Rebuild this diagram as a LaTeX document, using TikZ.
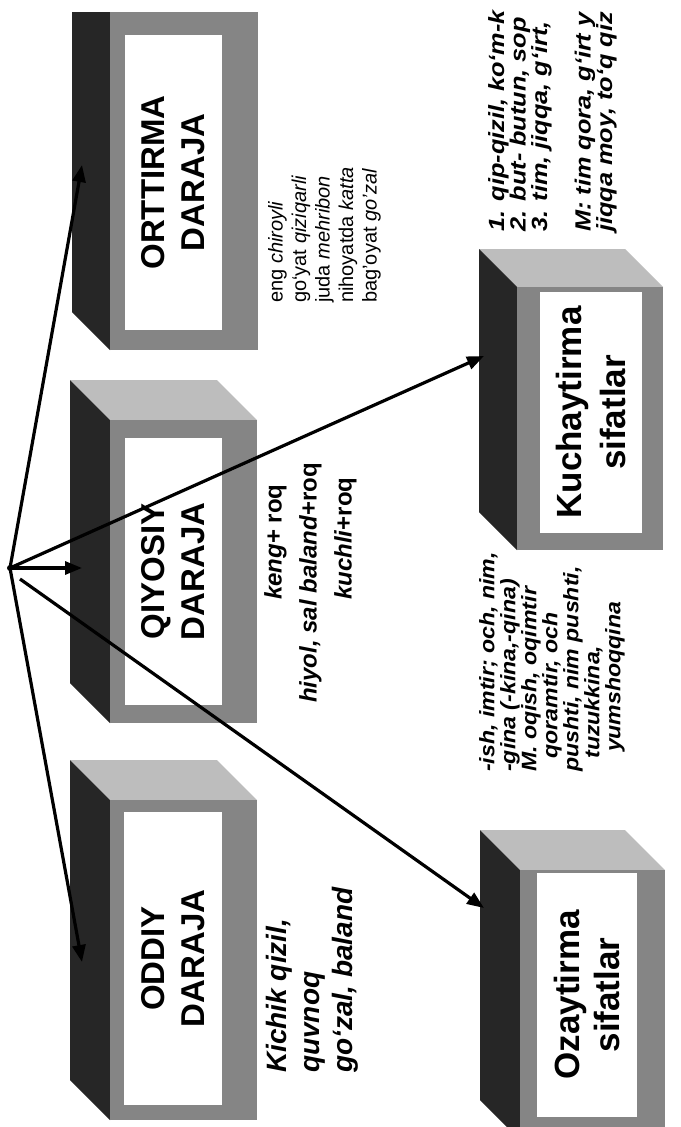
\documentclass[tikz,border=0pt]{standalone}
\usepackage{fontspec}
\setmainfont{Liberation Sans}
\usetikzlibrary{arrows.meta}
\definecolor{sidedark}{gray}{0.15}
\definecolor{topgrey}{gray}{0.74}
\definecolor{framegrey}{gray}{0.52}
\newcommand\drawcube[5]{%
  \fill[topgrey] (#1,#2) -- (#1-#5,#2-#5) -- (#3-#5,#2-#5) -- (#3,#2) -- cycle;
  \fill[sidedark] (#1,#2) -- (#1-#5,#2-#5) -- (#1-#5,#4-#5) -- (#1,#4) -- cycle;
  \fill[framegrey] (#1,#2) rectangle (#3,#4);
}
\begin{document}
\begin{tikzpicture}[x=1pt,y=-1pt,
  face/.style={rotate=90, fill=white, inner sep=0pt, align=center, font=\bfseries\fontsize{33}{40}\selectfont},
  note/.style={rotate=90, inner sep=0pt, anchor=north west, align=left},
  conn/.style={line width=3.2pt, -{Triangle[length=17pt,width=13pt]}},
]
\useasboundingbox (0,0) rectangle (680,1127);
\fill[white] (0,0) rectangle (680,1127);

\begin{scope}
\clip (0,12) rectangle (680,1127);
\drawcube{110}{12}{258}{350}{38}
\end{scope}
\drawcube{110}{420}{257}{723}{40}
\drawcube{110}{800}{257}{1120}{40}
\drawcube{517}{287}{663}{550}{38}
\drawcube{520}{870}{665}{1140}{40}

\node[face, minimum width=295pt, minimum height=97pt] (orttirma) at (173.5,182.5) {ORTTIRMA\\DARAJA};
\node[face, minimum width=267pt, minimum height=97pt] (qiyosiy) at (173.5,571.5) {QIYOSIY\\DARAJA};
\node[face, minimum width=293pt, minimum height=98pt] (oddiy) at (173,958.5) {ODDIY\\DARAJA};
\node[face, minimum width=241pt, minimum height=102pt, font=\bfseries\fontsize{35}{44}\selectfont] (kuch) at (591,412.5) {Kuchaytirma\\sifatlar};
\node[face, minimum width=244pt, minimum height=100pt, font=\bfseries\fontsize{35}{40}\selectfont] (ozay) at (587,995) {Ozaytirma\\sifatlar};

\coordinate (o) at (10,568);
\coordinate (o2) at (20,579);
\coordinate (tOrt) at (82,165);
\coordinate (tQiy) at (82,568);
\coordinate (tOdd) at (82,962);
\coordinate (tKuch) at (484,356);
\coordinate (tOz) at (484,908);
\draw[conn] (o) -- (tOrt);
\draw[conn] (o) -- (tQiy);
\draw[conn] (o) -- (tOdd);
\draw[conn] (o) -- (tKuch);
\draw[conn] (o2) -- (tOz);
\fill (o) circle (3pt);

\node[note, font=\fontsize{20}{23.5}\selectfont] (ortnote) at (268,303) {eng \textit{chiroyli}\\go‘yat \textit{qiziqarli}\\juda \textit{mehribon}\\nihoyatda \textit{katta}\\bag’oyat \textit{go’zal}};
\node[note, font=\bfseries\fontsize{24}{35}\selectfont] (qiynote) at (264,703) {\hspace*{103pt}\textit{keng}+ roq\\\textit{hiyol, sal baland}+roq\\\hspace*{103pt}\textit{kuchli}+roq};
\node[note, font=\bfseries\itshape\fontsize{28}{33}\selectfont] (oddnote) at (266,1073) {Kichik qizil,\\quvnoq\\go‘zal, baland};
\node[note, xscale=1.1, font=\bfseries\itshape\fontsize{21}{21}\selectfont] (oznote) at (479,772) {-ish, imtir; och, nim,\\-gina (-kina,-qina)\\M. oqish, oqimtir\\\hspace*{12pt}qoramtir, och\\pushti, nim pushti,\\\hspace*{12pt}tuzukkina,\\\hspace*{18pt}yumshoqqina};
\node[note, xscale=1.15, font=\bfseries\itshape\fontsize{22}{19.5}\selectfont] (kuchnote) at (488,232) {1. qip-qizil, ko‘m-k\\2. but- butun, sop\\3. tim, jiqqa, g‘irt,\\[22pt]M: tim qora, g‘irt y\\jiqqa moy, to‘q qiz};
\end{tikzpicture}
\end{document}
